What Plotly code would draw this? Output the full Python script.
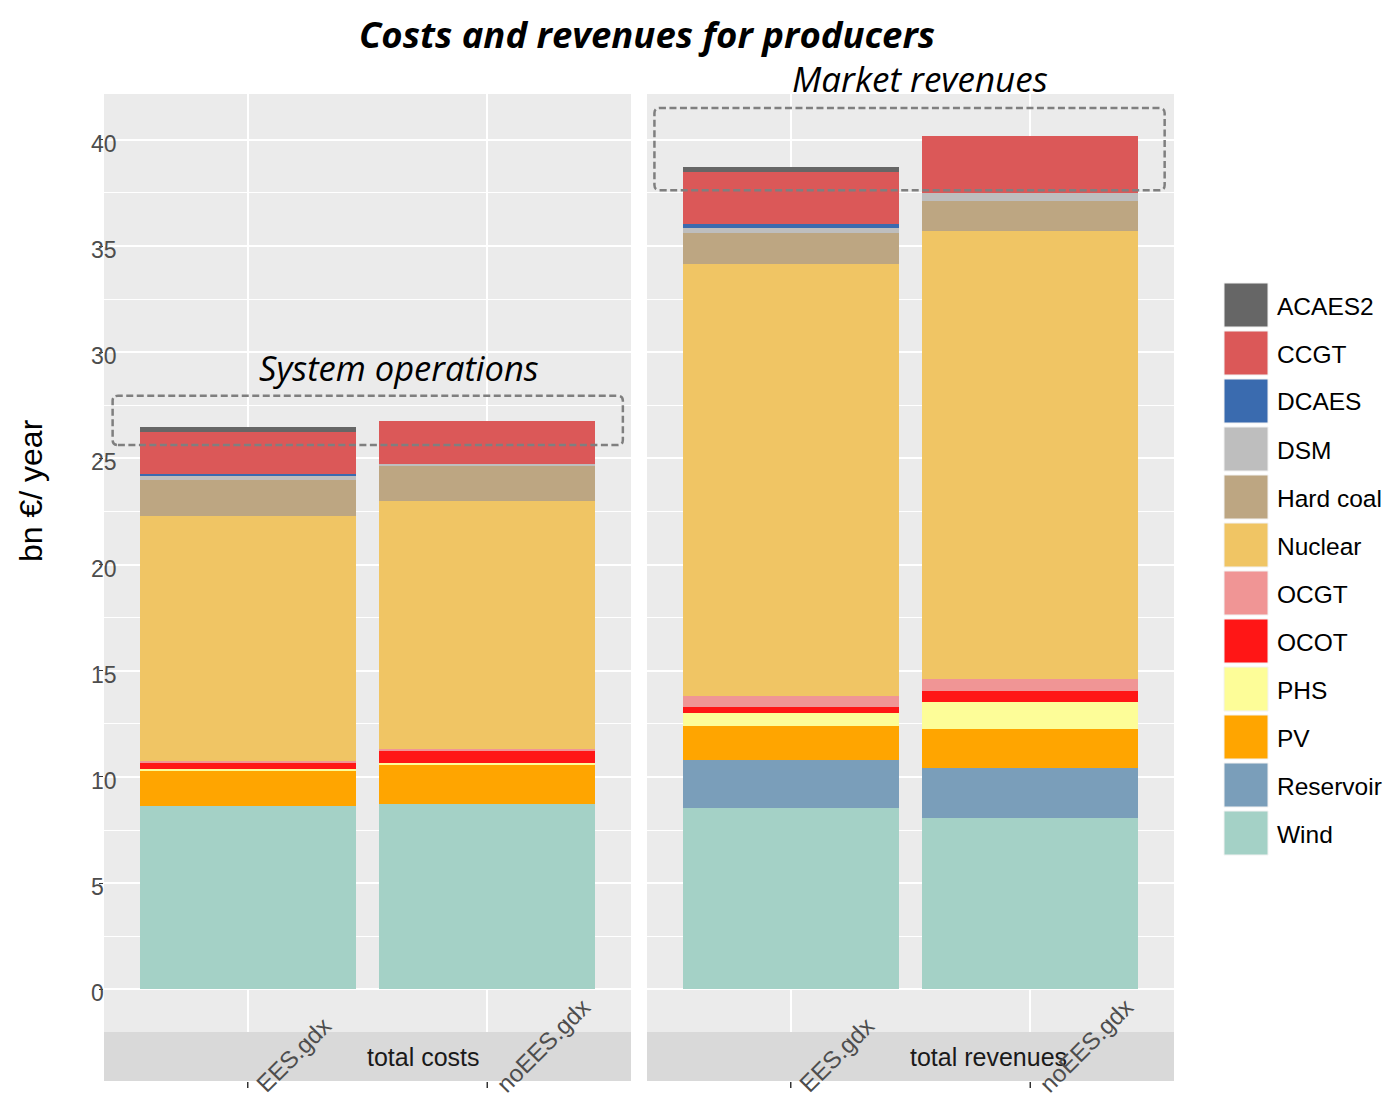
import plotly.graph_objects as go

# ---------------- data ----------------
categories = ["EES.gdx", "noEES.gdx"]
panels = ["total costs", "total revenues"]
technologies = ["ACAES2", "CCGT", "DCAES", "DSM", "Hard coal", "Nuclear",
                "OCGT", "OCOT", "PHS", "PV", "Reservoir", "Wind"]
tech_colors = ["#666666", "#DB5858", "#3A6BAF", "#BEBEBE", "#BDA682", "#F0C564",
               "#F09595", "#FF1616", "#FDFD98", "#FFA500", "#7A9EBA", "#A4D1C6"]

# values in bn EUR / year, aligned with `technologies`
costs_EES = [0.24, 1.98, 0.09, 0.19, 1.69, 11.53, 0.09, 0.30, 0.08, 1.69, 0.00, 8.61]
costs_noEES = [0.00, 2.01, 0.00, 0.09, 1.66, 11.67, 0.09, 0.56, 0.09, 1.88, 0.00, 8.71]
revenues_EES = [0.24, 2.45, 0.19, 0.24, 1.46, 20.33, 0.52, 0.28, 0.61, 1.63, 2.27, 8.52]
revenues_noEES = [0.00, 2.68, 0.00, 0.38, 1.41, 21.13, 0.56, 0.52, 1.27, 1.84, 2.35, 8.05]

y_ticks = [0, 5, 10, 15, 20, 25, 30, 35, 40]

title_text = "Costs and revenues for producers"
y_title = "bn €/ year"
note_left = "System operations"
note_right = "Market revenues"

# ---------------- figure ----------------
# page body has an 8px margin; size figure so the page does not overflow
W, H = 1375, 1093
ML, MR, MT, MB = 96, 209, 86, 69
PW = W - ML - MR
PH = H - MT - MB


def px_x(px):  # screen pixel -> paper x
    return (px - 8 - ML) / PW


def px_y(py):  # screen pixel -> paper y
    return (H - MB - (py - 8)) / PH


fig = go.Figure()
x_pos = [i + 1 for i in range(len(categories))]
panel_data = [(costs_EES, costs_noEES, "x", "y"), (revenues_EES, revenues_noEES, "x2", "y2")]

for vals_a, vals_b, xa, ya in panel_data:
    for i in reversed(range(len(technologies))):
        fig.add_trace(go.Bar(
            x=x_pos, y=[vals_a[i], vals_b[i]], name=technologies[i],
            marker=dict(color=tech_colors[i], line=dict(width=0)),
            width=0.9, xaxis=xa, yaxis=ya, showlegend=False,
        ))

y_range = [-2.01, 42.16]
grid = dict(showgrid=True, gridcolor="white", gridwidth=2, zeroline=False)
minor = dict(dtick=2.5, tick0=0, showgrid=True, gridcolor="white", gridwidth=1)
fig.update_layout(
    width=W, height=H,
    margin=dict(l=ML, r=MR, t=MT, b=MB, autoexpand=False),
    paper_bgcolor="white", plot_bgcolor="#EBEBEB",
    barmode="stack", bargap=0,
    font=dict(family="Liberation Sans, Arial, sans-serif"),
    xaxis=dict(domain=[0, px_x(631)], range=[0.4, 2.6], tickvals=x_pos,
               showticklabels=False, ticks="", **grid),
    xaxis2=dict(domain=[px_x(647), 1], range=[0.4, 2.6], tickvals=x_pos,
                showticklabels=False, ticks="", anchor="y2", **grid),
    yaxis=dict(range=y_range, tickvals=y_ticks, ticks="outside", ticklen=4,
               tickcolor="#333333", tickwidth=1, showticklabels=False,
               minor=minor, **grid),
    yaxis2=dict(range=y_range, tickvals=y_ticks, matches="y", anchor="x2",
                showticklabels=False, ticks="", minor=minor, **grid),
)

shapes = []
annotations = []

# y tick labels (left-aligned, as in the reference)
for v in y_ticks:
    annotations.append(dict(text=str(v), xref="paper", yref="y", x=px_x(89), y=v,
                            xanchor="left", yanchor="middle", showarrow=False, yshift=-4,
                            font=dict(size=23, color="#4D4D4D")))

# strips below panels + x tick marks + tick labels
panel_px = [(104, 631, "x"), (647, 1174, "x2")]
for (p0, p1, xa), label in zip(panel_px, panels):
    shapes.append(dict(type="rect", xref="paper", yref="paper",
                       x0=px_x(p0), x1=px_x(p1), y0=px_y(1081), y1=px_y(1032),
                       fillcolor="#D9D9D9", line=dict(width=0), layer="above"))
    annotations.append(dict(text=label, xref="paper", yref="paper",
                            x=px_x((p0 + p1) / 2), y=px_y(1057), xanchor="left",
                            yanchor="middle", showarrow=False, xshift=-3,
                            font=dict(size=25, color="#1A1A1A")))
    for xv, cat in zip(x_pos, categories):
        shapes.append(dict(type="line", xref=xa, yref="paper", x0=xv, x1=xv,
                           y0=px_y(1082), y1=px_y(1088),
                           line=dict(color="#333333", width=1.5)))
        annotations.append(dict(text=cat, xref=xa, yref="paper", x=xv, y=px_y(1100),
                                xanchor="left", yanchor="bottom", textangle=-45,
                                showarrow=False, xshift=1,
                                font=dict(size=24, color="#4D4D4D")))


def rounded_rect(x0, x1, y0, y1, rx, ry):
    return (f"M {x0+rx},{y0} L {x1-rx},{y0} Q {x1},{y0} {x1},{y0+ry} "
            f"L {x1},{y1-ry} Q {x1},{y1} {x1-rx},{y1} L {x0+rx},{y1} "
            f"Q {x0},{y1} {x0},{y1-ry} L {x0},{y0+ry} Q {x0},{y0} {x0+rx},{y0} Z")


rx, ry = 0.022, 0.24
dash_line = dict(color="#7F7F7F", width=2.5, dash="7px,3.5px")
shapes.append(dict(type="path", xref="x", yref="y",
                   path=rounded_rect(0.436, 2.566, 25.63, 27.95, rx, ry), line=dash_line))
shapes.append(dict(type="path", xref="x2", yref="y2",
                   path=rounded_rect(0.431, 2.561, 37.63, 41.5, rx, ry), line=dash_line))

annotations.append(dict(text=note_left, xref="x", yref="y", x=1.63, y=29.3,
                        xanchor="center", yanchor="middle", showarrow=False,
                        font=dict(family="Open Sans", size=34.5, style="italic", color="black")))
annotations.append(dict(text=note_right, xref="paper", yref="paper", x=px_x(920), y=px_y(78),
                        xanchor="center", yanchor="middle", showarrow=False,
                        font=dict(family="Open Sans", size=35, style="italic", color="black")))
annotations.append(dict(text=title_text, xref="paper", yref="paper", x=px_x(647), y=px_y(8),
                        xanchor="center", yanchor="top", showarrow=False, borderpad=0,
                        font=dict(family="Open Sans", size=36.5, style="italic", weight="bold",
                                  color="black")))
annotations.append(dict(text=y_title, xref="paper", yref="paper", x=px_x(31), y=px_y(491),
                        xanchor="center", yanchor="middle", textangle=-90, showarrow=False,
                        font=dict(size=32, color="black")))

# manual legend built from technologies / colors
for i, (tech, col) in enumerate(zip(technologies, tech_colors)):
    top = 283 + 48 * i
    shapes.append(dict(type="rect", xref="paper", yref="paper",
                       x0=px_x(1224), x1=px_x(1268), y0=px_y(top + 44), y1=px_y(top),
                       fillcolor=col, line=dict(color="#F2F2F2", width=1)))
    annotations.append(dict(text=tech, xref="paper", yref="paper", x=px_x(1275),
                            y=px_y(top + 23), xanchor="left", yanchor="middle",
                            showarrow=False, font=dict(size=24.5, color="black")))

fig.update_layout(shapes=shapes, annotations=annotations)
fig.write_html("out.html")
